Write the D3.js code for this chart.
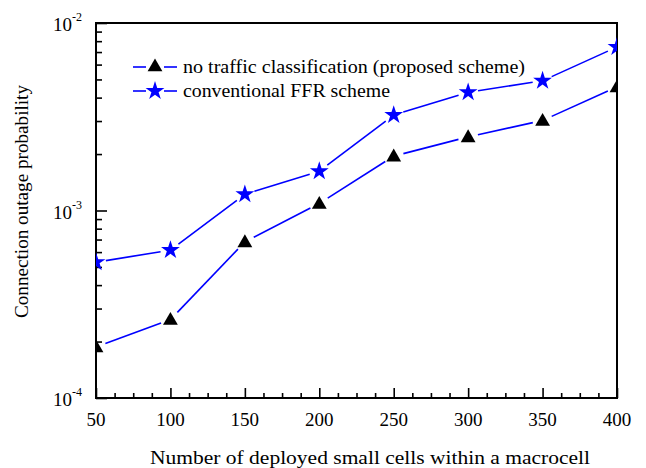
<!DOCTYPE html>
<html>
<head>
<meta charset="utf-8">
<script src="https://cdn.jsdelivr.net/npm/d3@7"></script>
<style>
body { margin: 0; background: #fff; }
text { font-family: "Liberation Serif", "Times New Roman", serif; fill: #000; }
</style>
</head>
<body>
<div id="figure"></div>
<script>
// small cells per macrocell
var cells = [50, 100, 150, 200, 250, 300, 350, 400];
var noClassOutage = [1.87e-4, 2.62e-4, 6.8e-4, 1.09e-3, 1.95e-3, 2.47e-3, 3.02e-3, 4.56e-3];
var ffrOutage = [5.3e-4, 6.15e-4, 1.22e-3, 1.62e-3, 3.23e-3, 4.27e-3, 4.92e-3, 7.45e-3];
var xTicks = [50, 100, 150, 200, 250, 300, 350, 400];
var yTicks = [1e-4, 1e-3, 1e-2];
var yExp = ["-4", "-3", "-2"];
var legendLabels = ["no traffic classification (proposed scheme)", "conventional FFR scheme"];

var W = 646, H = 468;
var pL = 96, pR = 617, pT = 23, pB = 398;
var blue = "#0000ff";

var svg = d3.select("#figure").append("svg").attr("width", W).attr("height", H);

var x = d3.scaleLinear().domain([50, 400]).range([pL, pR]);
var y = d3.scaleLog().domain([1e-4, 1e-2]).range([pB, pT]);

svg.append("clipPath").attr("id", "plotclip")
	.append("rect").attr("x", pL).attr("y", pT)
	.attr("width", pR - pL).attr("height", pB - pT);

// minor ticks
var xMinor = d3.range(50, 400.1, 12.5).filter(function(v) { return v % 50 != 0; });
var yMinor = [];
[1e-4, 1e-3].forEach(function(d) { for (var k = 2; k <= 9; k++) yMinor.push(d * k); });

svg.append("g").attr("transform", "translate(0," + pB + ")")
	.call(d3.axisBottom(x).tickValues(xMinor).tickSize(-5).tickFormat(""))
	.call(function(g) { g.select(".domain").remove(); });
svg.append("g").attr("transform", "translate(0," + pB + ")")
	.call(d3.axisBottom(x).tickValues(xTicks).tickSize(-10).tickFormat(""))
	.call(function(g) { g.select(".domain").remove(); });
svg.append("g").attr("transform", "translate(" + pL + ",0)")
	.call(d3.axisLeft(y).tickValues(yMinor).tickSize(-6).tickFormat(""))
	.call(function(g) { g.select(".domain").remove(); });
svg.append("g").attr("transform", "translate(" + pL + ",0)")
	.call(d3.axisLeft(y).tickValues(yTicks).tickSize(-11).tickFormat(""))
	.call(function(g) { g.select(".domain").remove(); });
svg.selectAll(".tick line").attr("stroke", "#000").attr("stroke-width", 1.6);

// frame
svg.append("rect").attr("x", pL).attr("y", pT)
	.attr("width", pR - pL).attr("height", pB - pT)
	.attr("fill", "none").attr("stroke", "#000").attr("stroke-width", 2);

// tick labels
svg.selectAll("text.xl").data(xTicks).enter().append("text")
	.attr("class", "xl")
	.attr("x", function(d) { return x(d); })
	.attr("y", 426)
	.attr("text-anchor", "middle")
	.attr("font-size", "19px")
	.text(function(d) { return d; });

var yl = svg.selectAll("text.yl").data(yTicks).enter().append("text")
	.attr("class", "yl")
	.attr("x", 53)
	.attr("y", function(d) { return y(d) + 8; })
	.attr("font-size", "19px");
yl.append("tspan").text("10");
yl.append("tspan").attr("font-size", "12px").attr("dy", -10).text(function(d, i) { return yExp[i]; });

// axis titles
svg.append("text")
	.attr("x", 150).attr("y", 464)
	.attr("font-size", "19px")
	.attr("textLength", 440).attr("lengthAdjust", "spacingAndGlyphs")
	.text("Number of deployed small cells within a macrocell");
svg.append("text")
	.attr("transform", "translate(28,318) rotate(-90)")
	.attr("font-size", "19px")
	.attr("textLength", 233).attr("lengthAdjust", "spacingAndGlyphs")
	.text("Connection outage probability");

// symbols
var tri = d3.symbol().type(d3.symbolTriangle).size(95);
var star = d3.symbol().type(d3.symbolStar).size(110);

// line with gaps around markers
function gapLine(g, vals, gap) {
	for (var i = 0; i < vals.length - 1; i++) {
		var x0 = x(cells[i]), y0 = y(vals[i]), x1 = x(cells[i + 1]), y1 = y(vals[i + 1]);
		var dx = x1 - x0, dy = y1 - y0, len = Math.sqrt(dx * dx + dy * dy);
		var ux = dx / len, uy = dy / len;
		g.append("line")
			.attr("x1", x0 + ux * gap).attr("y1", y0 + uy * gap)
			.attr("x2", x1 - ux * gap).attr("y2", y1 - uy * gap)
			.attr("stroke", blue).attr("stroke-width", 1.6);
	}
}

var plot = svg.append("g").attr("clip-path", "url(#plotclip)");

gapLine(plot, noClassOutage, 10);
gapLine(plot, ffrOutage, 10);

plot.selectAll("path.tri").data(noClassOutage).enter().append("path")
	.attr("class", "tri")
	.attr("d", tri)
	.attr("transform", function(d, i) { return "translate(" + x(cells[i]) + "," + (y(d) + 1) + ")"; })
	.attr("fill", "#000");

plot.selectAll("path.star").data(ffrOutage).enter().append("path")
	.attr("class", "star")
	.attr("d", star)
	.attr("transform", function(d, i) { return "translate(" + x(cells[i]) + "," + y(d) + ")"; })
	.attr("fill", blue);

// legend
var legY = [67, 91];
var legW = [342, 207];
var leg = svg.append("g");
legendLabels.forEach(function(lab, i) {
	leg.append("line").attr("x1", 133).attr("x2", 146).attr("y1", legY[i]).attr("y2", legY[i])
		.attr("stroke", blue).attr("stroke-width", 1.6);
	leg.append("line").attr("x1", 164).attr("x2", 177).attr("y1", legY[i]).attr("y2", legY[i])
		.attr("stroke", blue).attr("stroke-width", 1.6);
	leg.append("path")
		.attr("d", i == 0 ? tri : star)
		.attr("transform", "translate(155," + legY[i] + ")")
		.attr("fill", i == 0 ? "#000" : blue);
	leg.append("text").attr("x", 183).attr("y", legY[i] + 6)
		.attr("font-size", "19px")
		.attr("textLength", legW[i]).attr("lengthAdjust", "spacingAndGlyphs")
		.text(lab);
});
</script>
</body>
</html>
